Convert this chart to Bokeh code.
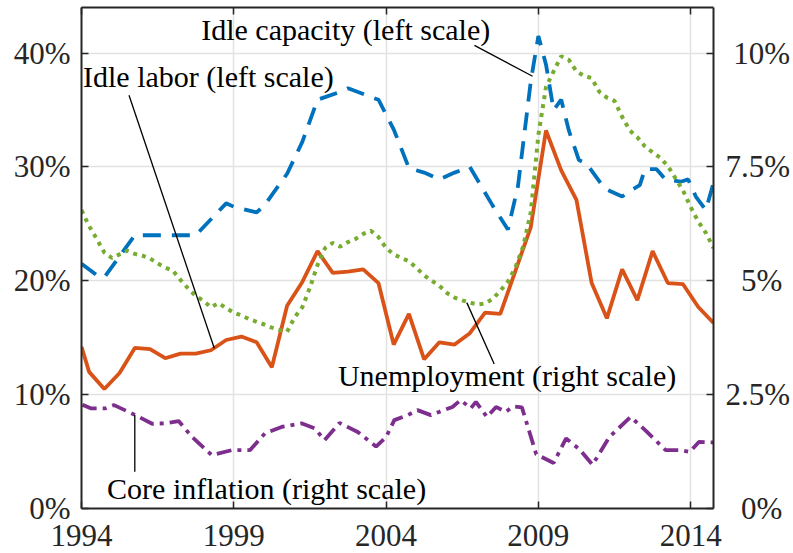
from bokeh.plotting import figure
from bokeh.models import Range1d, LinearAxis, FixedTicker, Label
from bokeh.embed import file_html
from bokeh.resources import INLINE

# ---------------- data ----------------
labor_years = [1994.0, 1994.25, 1994.75, 1995.25, 1995.75, 1996.25, 1996.75, 1997.25, 1997.75,
               1998.25, 1998.75, 1999.25, 1999.75, 2000.25, 2000.75, 2001.25, 2001.75, 2002.25,
               2002.75, 2003.25, 2003.75, 2004.25, 2004.75, 2005.25, 2005.75, 2006.25, 2006.75,
               2007.25, 2007.75, 2008.25, 2008.75, 2009.25, 2009.75, 2010.25, 2010.75, 2011.25,
               2011.75, 2012.25, 2012.75, 2013.25, 2013.75, 2014.25, 2014.75]
labor_vals = [14.2, 12.0, 10.5, 11.9, 14.1, 14.0, 13.2, 13.6, 13.6,
              13.9, 14.8, 15.1, 14.6, 12.4, 17.8, 19.9, 22.6, 20.7,
              20.8, 21.0, 19.8, 14.4, 17.1, 13.1, 14.6, 14.4, 15.4,
              17.2, 17.1, 20.9, 24.7, 33.2, 29.7, 27.1, 19.8, 16.7,
              21.0, 18.3, 22.6, 19.8, 19.7, 17.7, 16.3]

capacity_years = [1994.0, 1994.5, 1994.75, 1995.75, 1997.75, 1998.75, 1999.0, 1999.75, 2000.0,
                  2000.75, 2001.25, 2001.75, 2002.5, 2002.75, 2003.75, 2004.25, 2004.75, 2005.25,
                  2005.75, 2006.25, 2006.75, 2007.5, 2008.0, 2008.33, 2008.75, 2009.0, 2009.25,
                  2009.5, 2009.75, 2010.0, 2010.33, 2010.58, 2011.17, 2011.75, 2012.08, 2012.33,
                  2012.5, 2012.88, 2013.17, 2013.67, 2013.92, 2014.17, 2014.5, 2014.75]
capacity_vals = [21.5, 20.5, 20.3, 24.0, 24.0, 26.8, 26.5, 26.0, 26.6,
                 29.4, 32.2, 35.9, 36.6, 36.9, 35.9, 33.3, 29.9, 29.5,
                 28.9, 29.5, 30.0, 26.6, 24.5, 28.3, 37.5, 41.5, 39.0,
                 35.0, 35.9, 33.2, 30.6, 30.3, 28.1, 27.4, 28.0, 28.4,
                 29.8, 29.8, 28.9, 28.7, 28.9, 27.4, 26.2, 28.6]

unemp_years = [1994.0, 1994.25, 1994.5, 1994.75, 1995.0, 1995.25, 1995.5, 1995.75,
               1996.0, 1996.25, 1996.5, 1996.75, 1997.0, 1997.25, 1997.5, 1997.75,
               1998.0, 1998.25, 1998.5, 1998.75, 1999.0, 1999.25, 1999.5, 1999.75,
               2000.0, 2000.25, 2000.5, 2000.75, 2001.0, 2001.25, 2001.5, 2001.75,
               2002.0, 2002.25, 2002.5, 2002.75, 2003.0, 2003.25, 2003.5, 2003.75,
               2004.0, 2004.25, 2004.5, 2004.75, 2005.0, 2005.25, 2005.5, 2005.75,
               2006.0, 2006.25, 2006.5, 2006.75, 2007.0, 2007.25, 2007.5, 2007.75,
               2008.0, 2008.25, 2008.5, 2008.75, 2009.0, 2009.25, 2009.5, 2009.75,
               2010.0, 2010.25, 2010.5, 2010.75, 2011.0, 2011.25, 2011.5, 2011.75,
               2012.0, 2012.25, 2012.5, 2012.75, 2013.0, 2013.25, 2013.5, 2013.75,
               2014.0, 2014.25, 2014.5, 2014.75]
unemp_vals = [6.55, 6.20, 5.92, 5.62, 5.50, 5.58, 5.66, 5.59,
              5.55, 5.49, 5.38, 5.29, 5.22, 5.02, 4.83, 4.67,
              4.56, 4.42, 4.51, 4.40, 4.30, 4.24, 4.16, 4.10,
              4.04, 3.97, 3.92, 3.88, 4.20, 4.42, 4.85, 5.35,
              5.72, 5.83, 5.75, 5.85, 5.92, 6.03, 6.10, 5.96,
              5.72, 5.58, 5.50, 5.43, 5.28, 5.12, 5.00, 4.89,
              4.73, 4.63, 4.57, 4.52, 4.48, 4.50, 4.60, 4.78,
              4.98, 5.30, 5.75, 6.50, 8.20, 9.25, 9.60, 9.93,
              9.85, 9.60, 9.50, 9.45, 9.15, 9.02, 8.95, 8.60,
              8.30, 8.15, 7.95, 7.82, 7.70, 7.52, 7.25, 6.98,
              6.62, 6.30, 6.05, 5.72]

infl_years = [1994.03, 1994.30, 1994.79, 1995.07, 1995.77, 1996.32, 1996.75, 1997.19, 1997.63,
              1998.28, 1998.93, 1999.53, 2000.02, 2000.57, 2001.22, 2001.66, 2001.98, 2002.47,
              2003.07, 2003.67, 2004.0, 2004.27, 2004.71, 2005.03, 2005.47, 2005.74, 2006.18,
              2006.45, 2006.78, 2006.95, 2007.31, 2007.61, 2007.93, 2008.16, 2008.46, 2008.93,
              2009.50, 2009.91, 2010.35, 2010.78, 2011.33, 2012.03, 2012.54, 2013.18, 2013.68,
              2013.97, 2014.27, 2014.67, 2014.75]
infl_vals = [2.28, 2.20, 2.20, 2.27, 2.05, 1.86, 1.87, 1.92, 1.57,
             1.17, 1.28, 1.28, 1.65, 1.79, 1.87, 1.76, 1.50, 1.88,
             1.68, 1.36, 1.57, 1.94, 2.05, 2.16, 2.05, 2.12, 2.23,
             2.38, 2.20, 2.34, 2.01, 2.23, 2.12, 2.24, 2.22, 1.19,
             1.00, 1.54, 1.30, 0.96, 1.57, 2.01, 1.70, 1.28, 1.28,
             1.24, 1.46, 1.45, 1.45]

x_ticks = [1994, 1999, 2004, 2009, 2014]
left_ticks = [0, 10, 20, 30, 40]
left_labels = ["0%", "10%", "20%", "30%", "40%"]
right_ticks = [0, 2.5, 5, 7.5, 10]
right_labels = ["0%", "2.5%", "5%", "7.5%", "10%"]

# ---------------- styling ----------------
FONT = "Liberation Serif"
TICK_FS = "31px"
ANN_FS = "30px"
AX = "#262626"
GRID = "#e2e2e2"

p = figure(width=793, height=553, output_backend="svg", toolbar_location=None,
           x_range=Range1d(1994, 2014.75), y_range=Range1d(0, 44),
           min_border_left=81, min_border_right=78, min_border_top=7, min_border_bottom=45)
p.extra_y_ranges = {"right": Range1d(0, 11)}
p.outline_line_color = None
p.background_fill_color = "white"
p.border_fill_color = "white"

p.xgrid.ticker = FixedTicker(ticks=x_ticks)
p.ygrid.ticker = FixedTicker(ticks=left_ticks)
for g in (p.xgrid, p.ygrid):
    g.grid_line_color = GRID
    g.grid_line_width = 1.5


def style_axis(ax, standoff):
    ax.axis_line_color = AX
    ax.axis_line_width = 2
    ax.major_tick_line_color = AX
    ax.major_tick_line_width = 1.5
    ax.major_tick_in = 7
    ax.major_tick_out = 0
    ax.minor_tick_line_color = None
    ax.major_label_text_font = FONT
    ax.major_label_text_font_size = TICK_FS
    ax.major_label_text_color = AX
    ax.major_label_standoff = standoff


xax = p.xaxis[0]
xax.ticker = FixedTicker(ticks=x_ticks)
style_axis(xax, 16)
xax.major_label_text_line_height = 0.7

yax = p.yaxis[0]
yax.ticker = FixedTicker(ticks=left_ticks)
yax.major_label_overrides = {t: s for t, s in zip(left_ticks, left_labels)}
style_axis(yax, 11)

pad = {2: "\u2002", 3: "\u2005", 4: ""}
rax = LinearAxis(y_range_name="right", ticker=FixedTicker(ticks=right_ticks))
rax.major_label_overrides = {t: pad[len(s)] + s for t, s in zip(right_ticks, right_labels)}
style_axis(rax, 12)
p.add_layout(rax, "right")

tax = LinearAxis(ticker=FixedTicker(ticks=x_ticks))
style_axis(tax, 0)
tax.major_label_text_font_size = "0px"
tax.major_label_text_color = None
p.add_layout(tax, "above")

# ---------------- series ----------------
p.line(capacity_years, capacity_vals, line_color="#0072BD", line_width=3.8, line_dash="18 11")
p.line(labor_years, labor_vals, line_color="#D95319", line_width=3.8)
p.line(unemp_years, unemp_vals, y_range_name="right", line_color="#77AC30",
       line_width=4, line_dash="4 5")
p.line(infl_years, infl_vals, y_range_name="right", line_color="#7E2F8E",
       line_width=3.8, line_dash="15 6 4 6")

# ---------------- annotations ----------------
ann_texts = ["Idle capacity (left scale)", "Idle labor (left scale)",
             "Unemployment (right scale)", "Core inflation (right scale)"]
ann_pos = [(1997.93, 42.1), (1994.05, 37.9), (2002.42, 11.72), (1994.84, 1.76)]
lead_x0 = [2006.90, 1995.56, 2006.65, 1995.75]
lead_y0 = [40.67, 36.29, 18.08, 8.21]
lead_x1 = [2008.81, 1998.36, 2007.55, 1995.75]
lead_y1 = [37.96, 14.07, 12.69, 3.22]

p.segment(lead_x0, lead_y0, lead_x1, lead_y1, line_color="black", line_width=1.3)
for t, (x, y) in zip(ann_texts, ann_pos):
    p.add_layout(Label(x=x, y=y, text=t, text_font=FONT, text_font_size=ANN_FS,
                       text_color="black", text_baseline="alphabetic", text_align="left"))

open("out.html", "w").write(file_html(p, INLINE))
